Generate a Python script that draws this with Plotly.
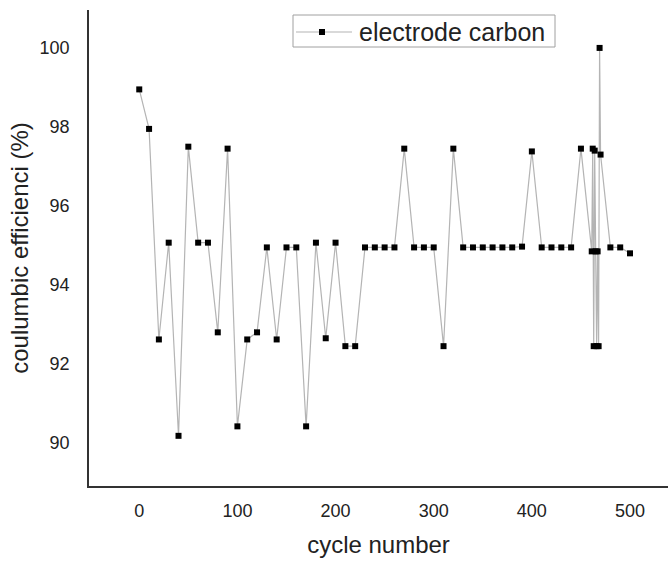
import plotly.graph_objects as go

cycles = [0, 10, 20, 30, 40, 50, 60, 70, 80, 90,
          100, 110, 120, 130, 140, 150, 160, 170, 180, 190,
          200, 210, 220, 230, 240, 250, 260, 270, 280, 290,
          300, 310, 320, 330, 340, 350, 360, 370, 380, 390,
          400, 410, 420, 430, 440, 450,
          461, 462, 463, 464, 465, 466, 467, 468, 469, 470,
          480, 490, 500]
efficiency = [98.95, 97.95, 92.62, 95.07, 90.18, 97.50, 95.07, 95.07, 92.80, 97.45,
              90.42, 92.62, 92.80, 94.95, 92.62, 94.95, 94.95, 90.42, 95.07, 92.65,
              95.07, 92.45, 92.45, 94.95, 94.95, 94.95, 94.95, 97.45, 94.95, 94.95,
              94.95, 92.45, 97.45, 94.95, 94.95, 94.95, 94.95, 94.95, 94.95, 94.97,
              97.38, 94.95, 94.95, 94.95, 94.95, 97.45,
              94.85, 97.45, 92.45, 97.40, 94.85, 92.45, 94.85, 92.45, 100.0, 97.30,
              94.95, 94.95, 94.80]

series_name = "electrode carbon"
x_ticks = [0, 100, 200, 300, 400, 500]
y_ticks = [90, 92, 94, 96, 98, 100]

font_family = "Liberation Sans, Arial, sans-serif"
line_color = "#b4b4b4"

fig = go.Figure()
fig.add_trace(go.Scatter(
    x=cycles, y=efficiency, mode="lines+markers", name=series_name,
    line=dict(color=line_color, width=1.2),
    marker=dict(symbol="square", size=6, color="black", line=dict(width=0)),
    showlegend=False,
))

# legend box drawn in paper coordinates (plot area: 89..668 px wide, 10..486 px tall)
L, R, T, B = 89, 668, 10, 486
def px(xp):
    return (xp - L) / (R - L)
def py(yp):
    return (B - yp) / (B - T)

shapes = [
    dict(type="rect", xref="paper", yref="paper",
         x0=px(293), x1=px(555), y0=py(47), y1=py(15),
         line=dict(color="#a0a0a0", width=1), fillcolor="white", layer="above"),
    dict(type="line", xref="paper", yref="paper",
         x0=px(296), x1=px(352), y0=py(32), y1=py(32),
         line=dict(color=line_color, width=1.2), layer="above"),
    dict(type="rect", xref="paper", yref="paper",
         x0=px(319), x1=px(325), y0=py(35), y1=py(29),
         line=dict(width=0), fillcolor="black", layer="above"),
]
annotations = [
    dict(text=series_name, xref="paper", yref="paper", x=px(357), y=py(32),
         xanchor="left", yanchor="middle", showarrow=False,
         font=dict(size=25, color="#222222", family=font_family)),
]

fig.update_layout(
    width=668, height=563,
    margin=dict(l=89, r=0, t=10, b=77),
    paper_bgcolor="white", plot_bgcolor="white",
    font=dict(family=font_family, color="#222222"),
    showlegend=False,
    shapes=shapes,
    annotations=annotations,
    xaxis=dict(
        range=[-51.2, 538.7], tickvals=x_ticks, showgrid=False, zeroline=False,
        showline=True, linecolor="#333333", linewidth=1.5,
        ticks="outside", ticklen=8, tickcolor="rgba(0,0,0,0)",
        tickfont=dict(size=18, color="#222222"),
        title=dict(text="cycle number", font=dict(size=24, color="#222222"), standoff=16),
    ),
    yaxis=dict(
        range=[88.91, 100.96], tickvals=y_ticks, showgrid=False, zeroline=False,
        showline=True, linecolor="#333333", linewidth=1.5,
        ticks="outside", ticklen=14, tickcolor="rgba(0,0,0,0)",
        tickfont=dict(size=18, color="#222222"),
        title=dict(text="coulumbic efficienci (%)", font=dict(size=24, color="#222222"), standoff=4),
    ),
)

fig.write_html("out.html")
